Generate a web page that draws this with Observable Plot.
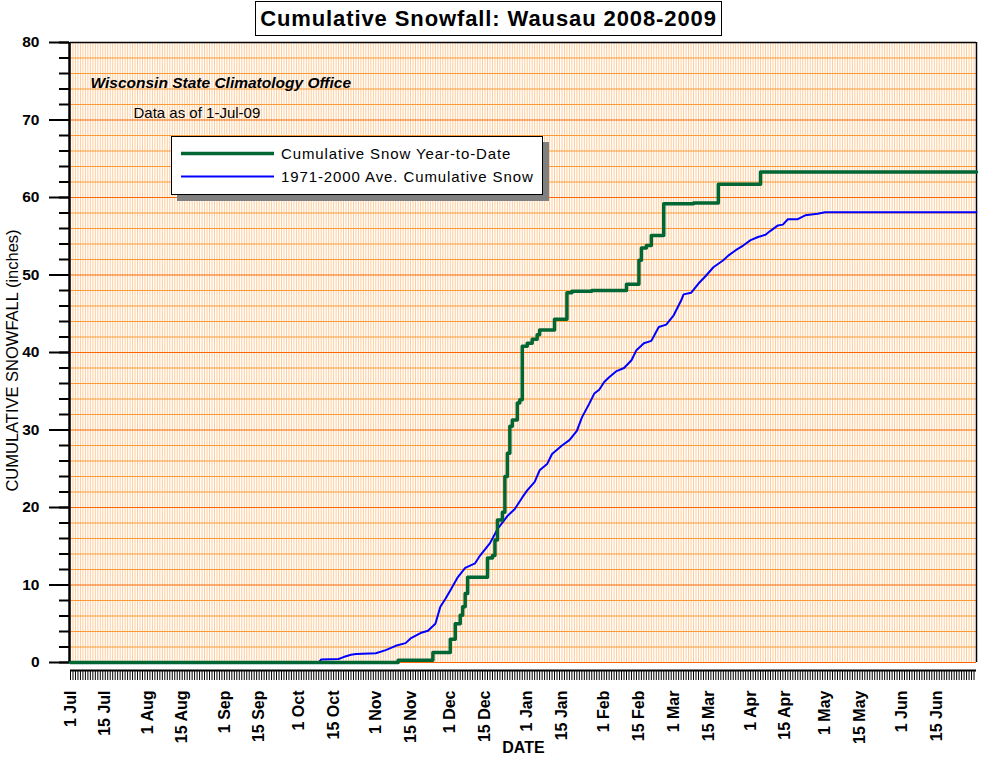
<!DOCTYPE html>
<html>
<head>
<meta charset="utf-8">
<script src="https://cdn.jsdelivr.net/npm/d3@7"></script>
<script src="https://cdn.jsdelivr.net/npm/@observablehq/plot@0.6"></script>
<style>
  html, body { margin: 0; padding: 0; background: #fff; }
  body { font-family: "Liberation Sans", Arial, sans-serif; }
  #wrap { position: relative; width: 981px; height: 763px; overflow: hidden; }
  #chart { position: absolute; left: 0; top: 0; }
  #title {
    position: absolute; left: 255px; top: 1px; width: 465px; height: 33px;
    border: 1px solid #000; background: #fff; text-align: center;
    font-weight: bold; font-size: 22px; line-height: 33px; letter-spacing: 0.9px; color: #000;
  }
  #legend {
    position: absolute; left: 171px; top: 136px; width: 370px; height: 57px;
    border: 1px solid #000; background: #fff; box-shadow: 6px 6px 0 #808080;
  }
  #legend svg { position: absolute; left: 0; top: 0; }
  .lg { position: absolute; left: 109px; font-size: 15px; letter-spacing: 0.9px; color: #000; line-height: 18px; }
</style>
</head>
<body>
<div id="wrap">
  <div id="chart"></div>
  <div id="title">Cumulative Snowfall: Wausau 2008-2009</div>
  <div id="legend"></div>
</div>
<script>
// ---- Data ----
const seasonStart = "2008-07-01";
const seasonEnd = "2009-07-01";

// Cumulative snow year-to-date (value holds from the date on)
const ytdDates = ["2008-07-01","2008-11-10","2008-11-24","2008-12-01","2008-12-03","2008-12-05","2008-12-06","2008-12-07","2008-12-08","2008-12-16","2008-12-18","2008-12-19","2008-12-20","2008-12-22","2008-12-23","2008-12-24","2008-12-25","2008-12-26","2008-12-28","2008-12-29","2008-12-30","2009-01-01","2009-01-03","2009-01-05","2009-01-06","2009-01-12","2009-01-17","2009-01-19","2009-01-27","2009-02-10","2009-02-15","2009-02-16","2009-02-18","2009-02-20","2009-02-25","2009-03-09","2009-03-19","2009-04-05","2009-07-01"];
const ytdValues = [0,0.3,1.3,3.0,5.0,6.1,7.2,8.9,11.0,13.5,13.8,15.8,18.4,19.4,24.0,27.0,30.5,31.3,33.5,33.9,40.8,41.2,41.7,42.3,42.9,44.3,47.7,47.9,48.0,48.8,51.9,53.5,53.8,55.1,59.2,59.3,61.7,63.3,63.3];

// 1971-2000 average cumulative snow
const avgDates = ["2008-07-01","2008-10-09","2008-10-10","2008-10-17","2008-10-19","2008-10-22","2008-10-24","2008-11-01","2008-11-05","2008-11-09","2008-11-13","2008-11-15","2008-11-19","2008-11-22","2008-11-25","2008-11-27","2008-11-29","2008-12-01","2008-12-04","2008-12-07","2008-12-11","2008-12-13","2008-12-17","2008-12-20","2008-12-24","2008-12-27","2008-12-30","2009-01-01","2009-01-04","2009-01-06","2009-01-09","2009-01-11","2009-01-15","2009-01-18","2009-01-21","2009-01-23","2009-01-26","2009-01-28","2009-01-30","2009-02-01","2009-02-03","2009-02-06","2009-02-09","2009-02-12","2009-02-14","2009-02-17","2009-02-20","2009-02-23","2009-02-26","2009-03-01","2009-03-04","2009-03-05","2009-03-08","2009-03-11","2009-03-14","2009-03-17","2009-03-21","2009-03-23","2009-03-26","2009-03-29","2009-04-01","2009-04-04","2009-04-07","2009-04-09","2009-04-12","2009-04-14","2009-04-16","2009-04-20","2009-04-23","2009-04-28","2009-05-01","2009-07-01"];
const avgValues = [0,0,0.4,0.45,0.7,1.0,1.1,1.2,1.6,2.15,2.5,3.1,3.8,4.1,5.0,7.2,8.2,9.3,11.0,12.2,12.8,13.8,15.4,17.2,18.9,19.8,21.3,22.2,23.3,24.8,25.6,26.9,28.0,28.7,29.9,31.6,33.4,34.7,35.2,36.2,36.8,37.6,38.0,39.0,40.3,41.2,41.5,43.3,43.6,44.8,46.7,47.5,47.7,48.9,49.9,51.0,51.9,52.5,53.2,53.8,54.5,54.9,55.2,55.7,56.4,56.5,57.2,57.2,57.7,57.9,58.1,58.1];

const yMajorTicks = [0,10,20,30,40,50,60,70,80];
const yMinorTicks = d3.range(0, 81, 2);
const seriesNames = ["Cumulative Snow Year-to-Date", "1971-2000 Ave. Cumulative Snow"];
const seriesColors = ["#006633", "#0000FF"];
const xTitle = "DATE";
const yTitle = "CUMULATIVE SNOWFALL (inches)";
const note1 = "Wisconsin State Climatology Office";
const note2 = "Data as of 1-Jul-09";

// ---- Build ----
const parse = d3.utcParse("%Y-%m-%d");
const x0 = parse(seasonStart), x1 = parse(seasonEnd);
const ytd = ytdDates.map((d, i) => ({date: parse(d), value: ytdValues[i]}));
const avg = avgDates.map((d, i) => ({date: parse(d), value: avgValues[i]}));
const days = d3.utcDay.range(x0, x1);
const labelTicks = d3.utcMonth.range(x0, x1).flatMap(m => [m, d3.utcDay.offset(m, 14)]);
const fmt = d3.utcFormat("%-d %b");
const FONT = "'Liberation Sans', Arial, sans-serif";

const chart = Plot.plot({
  width: 981,
  height: 763,
  marginTop: 42,
  marginBottom: 101,
  marginLeft: 70,
  marginRight: 5,
  style: {fontFamily: FONT, background: "#fff", color: "#000", overflow: "visible"},
  x: {type: "utc", domain: [x0, x1], label: null},
  y: {domain: [0, 80], label: null},
  marks: [
    // grid
    Plot.ruleX(days, {x: d => d, stroke: "#FFCC99", strokeWidth: 1}),
    Plot.ruleY(yMinorTicks.filter(v => v % 10 !== 0), {y: d => d, stroke: "#FF9933", strokeWidth: 1}),
    Plot.ruleY(yMajorTicks, {y: d => d, stroke: "#FF6600", strokeWidth: 1}),
    // frame top/right
    Plot.ruleY([80], {stroke: "#000", strokeWidth: 1.5}),
    Plot.ruleX([x1], {stroke: "#000", strokeWidth: 1.5}),
    // y axis line
    Plot.ruleX([x0], {stroke: "#000", strokeWidth: 2.5, dx: -1}),
    // y axis ticks
    Plot.axisY(yMinorTicks, {tickSize: 10, tickFormat: () => "", strokeWidth: 2, dx: -1}),
    Plot.axisY(yMajorTicks, {tickSize: 20, tickPadding: 10, strokeWidth: 2, dx: -1,
      fontSize: 15.5, fontWeight: "bold", tickFormat: d => String(d)}),
    // x axis band
    Plot.ruleY([0], {stroke: "#000", strokeWidth: 2, dy: 8}),
    Plot.axisX(days, {tickSize: 10, tickFormat: () => "", strokeWidth: 1, dy: 8}),
    Plot.axisX(labelTicks, {tickSize: 0, tickPadding: 28, tickRotate: -90, tickFormat: fmt,
      fontSize: 16, fontWeight: "bold"}),
    // axis titles
    Plot.text([xTitle], {text: d => d, frameAnchor: "bottom", dy: 90, fontSize: 16, fontWeight: "bold"}),
    Plot.text([yTitle], {text: d => d, frameAnchor: "left", textAnchor: "middle", dx: -58, dy: 8,
      rotate: -90, fontSize: 16.5}),
    // notes
    Plot.text([note1], {text: d => d, frameAnchor: "top-left", dx: 20, dy: 41, textAnchor: "start",
      lineAnchor: "middle", fontSize: 15.5, fontWeight: "bold", fontStyle: "italic", letterSpacing: "0.4px"}),
    Plot.text([note2], {text: d => d, frameAnchor: "top-left", dx: 63, dy: 71, textAnchor: "start",
      lineAnchor: "middle", fontSize: 15, letterSpacing: "0.5px"}),
    // series
    Plot.line(avg, {x: "date", y: "value", stroke: seriesColors[1], strokeWidth: 2}),
    Plot.line(ytd, {x: "date", y: "value", stroke: seriesColors[0], strokeWidth: 3.5, curve: "step-after"})
  ]
});
document.getElementById("chart").appendChild(chart);

// legend
const lg = document.getElementById("legend");
const ns = "http://www.w3.org/2000/svg";
const svg = document.createElementNS(ns, "svg");
svg.setAttribute("width", 370); svg.setAttribute("height", 57);
seriesNames.forEach((name, i) => {
  const yy = i === 0 ? 16.5 : 39.5;
  const ln = document.createElementNS(ns, "line");
  ln.setAttribute("x1", 9); ln.setAttribute("x2", 102);
  ln.setAttribute("y1", yy); ln.setAttribute("y2", yy);
  ln.setAttribute("stroke", seriesColors[i]);
  ln.setAttribute("stroke-width", i === 0 ? 3.5 : 2);
  svg.appendChild(ln);
  const t = document.createElement("div");
  t.className = "lg";
  t.style.top = (yy - 9) + "px";
  t.textContent = name;
  lg.appendChild(t);
});
lg.appendChild(svg);
</script>
</body>
</html>
